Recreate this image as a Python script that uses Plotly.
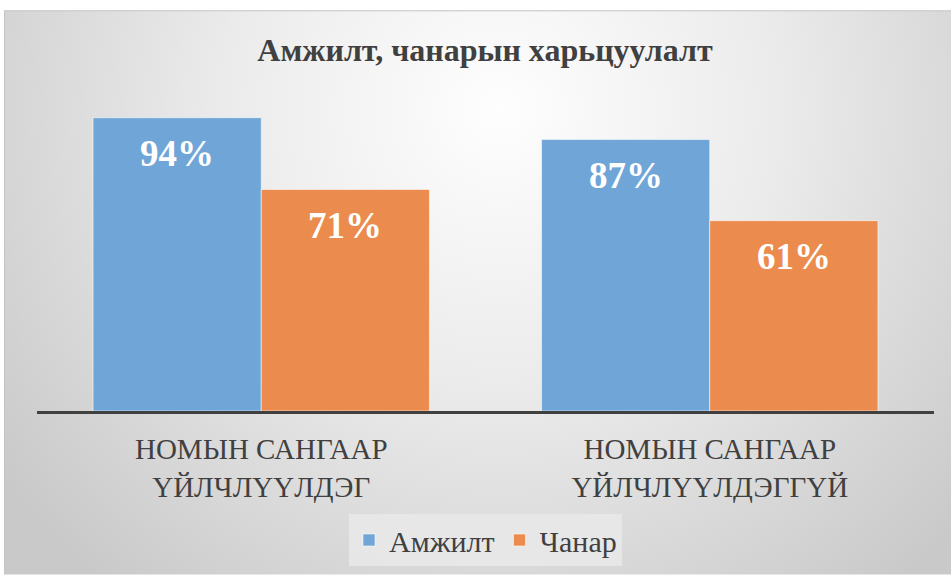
import base64
import plotly.graph_objects as go

# Chart data
categories = ["НОМЫН САНГААР<br>ҮЙЛЧЛҮҮЛДЭГ", "НОМЫН САНГААР<br>ҮЙЛЧЛҮҮЛДЭГГҮЙ"]
series_names = ["Амжилт", "Чанар"]
success = [0.94, 0.87]
quality = [0.71, 0.61]
series_colors = ["#70A5D7", "#EB8C4E"]

W, H = 951, 576
M_L, M_R, M_T, M_B = 37, 17, 99, 164
plot_w = W - M_L - M_R
plot_h = H - M_T - M_B
BARGAP = 0.25
SERIF = "Liberation Serif, Times New Roman, serif"

# Soft radial-gradient card behind the chart
svg = f"""<svg xmlns='http://www.w3.org/2000/svg' width='{W}' height='{H}' viewBox='0 0 {W} {H}'>
<defs><radialGradient id='g' gradientUnits='userSpaceOnUse' cx='500' cy='110' r='620'>
<stop offset='0' stop-color='#fefefe'/><stop offset='0.45' stop-color='#ebebeb'/>
<stop offset='1' stop-color='#c9c9c9'/></radialGradient></defs>
<rect x='0' y='0' width='{W}' height='{H}' fill='#ffffff'/>
<rect x='4.5' y='10.5' width='{W}' height='{H}' fill='url(#g)' stroke='#c4c4c4' stroke-width='1'/>
</svg>"""
bg_uri = "data:image/svg+xml;base64," + base64.b64encode(svg.encode()).decode()

fig = go.Figure()
for name, vals, color in zip(series_names, [success, quality], series_colors):
    fig.add_trace(go.Bar(
        name=name, x=categories, y=vals,
        marker=dict(color=color, line=dict(color="rgba(255,255,255,0.55)", width=1)),
        hoverinfo="skip",
    ))

# Value labels placed just under each bar's top edge
half = (1 - BARGAP) / 2
annotations = []
for s, vals in enumerate([success, quality]):
    for i, v in enumerate(vals):
        annotations.append(dict(
            x=i + (s - 0.5) * half, y=v, xref="x", yref="y",
            text=f"<b>{round(v * 100)}%</b>", showarrow=False,
            yanchor="middle", yshift=-36,
            font=dict(family=SERIF, size=37, color="#ffffff"),
        ))

fig.update_layout(
    width=W, height=H,
    margin=dict(l=M_L, r=M_R, t=M_T, b=M_B, pad=0),
    paper_bgcolor="#ffffff", plot_bgcolor="rgba(0,0,0,0)",
    barmode="group", bargap=BARGAP, bargroupgap=0,
    title=dict(
        text="<b>Амжилт, чанарын харьцуулалт</b>",
        x=0.51, xanchor="center", y=1 - 50 / H, yanchor="middle",
        font=dict(family=SERIF, size=32, color="#404040"),
    ),
    xaxis=dict(
        showline=True, linecolor="#404040", linewidth=3,
        ticks="", showgrid=False, zeroline=False, ticklabelstandoff=10,
        tickfont=dict(family=SERIF, size=29, color="#404040"),
    ),
    yaxis=dict(range=[0, 1.0], visible=False, showgrid=False, zeroline=False),
    legend=dict(
        orientation="h", x=0.5, xanchor="center",
        y=(0 - (540 - (M_T + plot_h)) / plot_h), yanchor="middle",
        bgcolor="rgba(232,232,232,0.9)",
        font=dict(family=SERIF, size=30, color="#404040"),
        itemwidth=30, tracegroupgap=0,
    ),
    annotations=annotations,
    images=[dict(
        source=bg_uri, xref="paper", yref="paper",
        x=-M_L / plot_w, y=1 + M_T / plot_h,
        sizex=W / plot_w, sizey=H / plot_h,
        xanchor="left", yanchor="top", sizing="stretch", layer="below",
    )],
)

fig.write_html("out.html")
